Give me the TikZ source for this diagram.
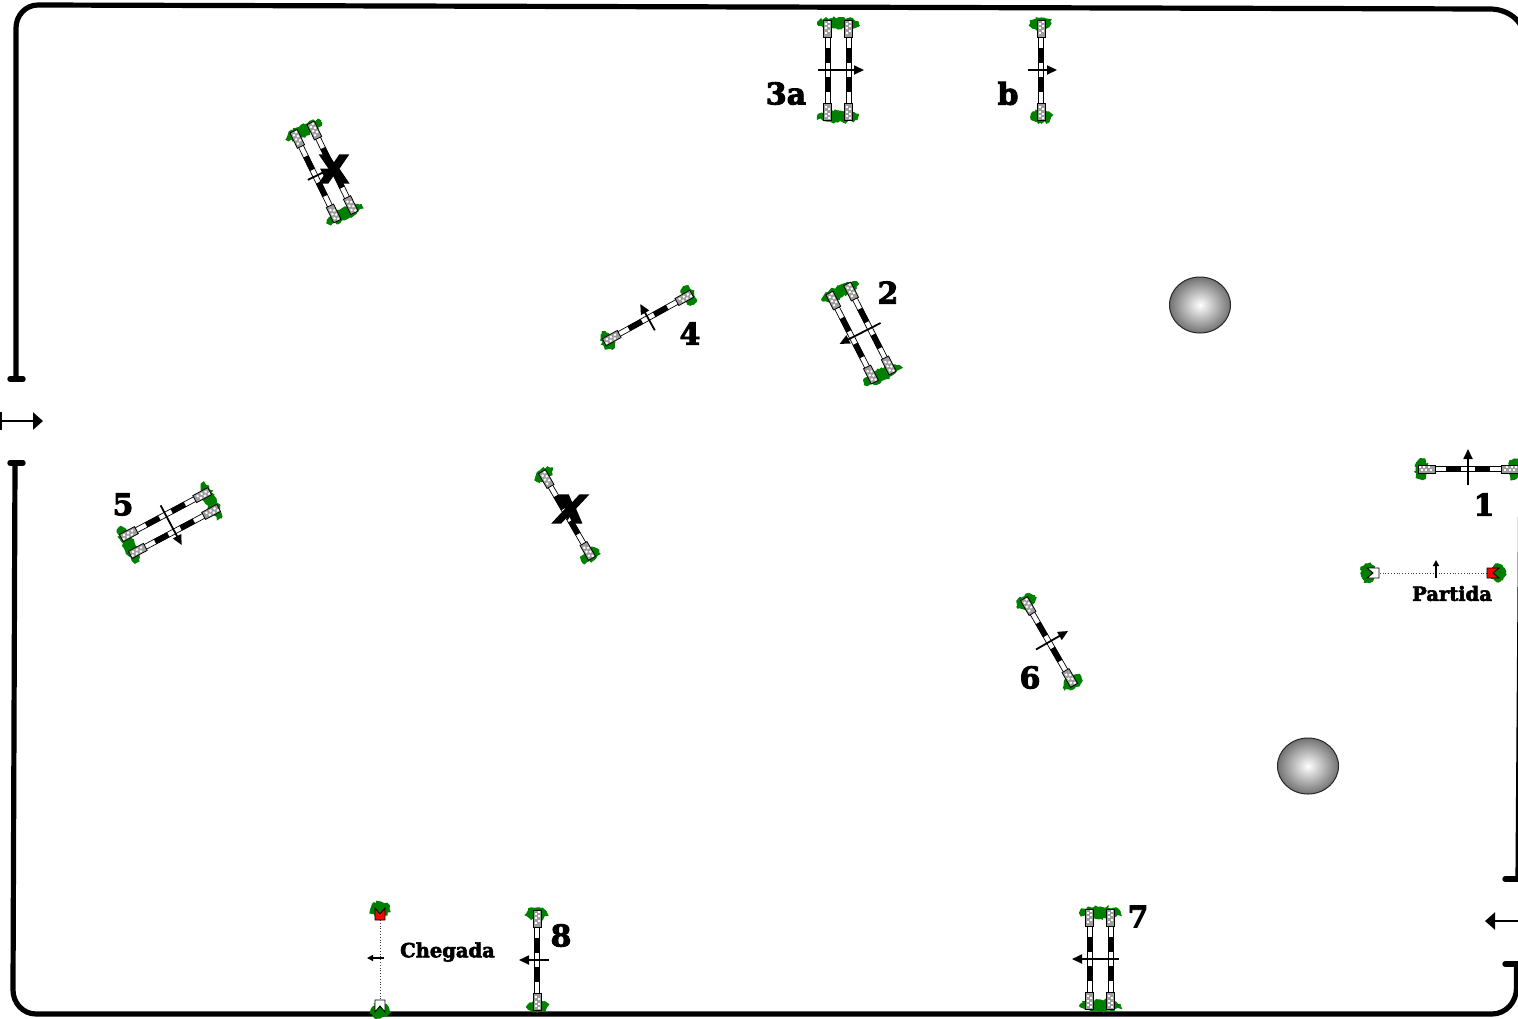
\documentclass[tikz,border=0pt]{standalone}
\usepackage{fontspec}
\setmainfont{DejaVu Serif}
\newfontfamily\labelfont[FakeBold=3]{DejaVu Serif Bold}
\newfontfamily\crossfont[FakeBold=6]{DejaVu Sans Bold}
\usetikzlibrary{arrows.meta,decorations.pathmorphing}
\definecolor{bushgreen}{RGB}{0,128,0}
\tikzset{
  wall/.style={line width=5.2pt,black,line cap=round,line join=round},
  stub/.style={line width=5.4pt,black,line cap=round},
  bigarrow/.style={line width=2.6pt,-{Triangle[length=10pt,width=17pt]}},
  dirarrow/.style={line width=1.8pt,-{Triangle[length=10pt,width=9pt]}},
  smallarrow/.style={line width=1.3pt,-{Triangle[length=6pt,width=6pt]}},
  numlabel/.style={font=\labelfont\fontsize{30}{30}\selectfont,inner sep=0pt},
  namelabel/.style={font=\labelfont\fontsize{19.5}{20}\selectfont,inner sep=0pt},
  crossmark/.style={font=\crossfont\fontsize{37}{37}\selectfont,inner sep=0pt},
  bush/.style={fill=bushgreen,draw=bushgreen,line width=1pt,decorate,decoration={random steps,segment length=2.2pt,amplitude=1.5pt}},
  ball/.style={draw=black!85,line width=1pt,inner color=white,outer color=black!55}
}
% one pole along local y, centred on (#1,0)
\newcommand{\polebar}[1]{%
  \begin{scope}[xshift=#1 pt]
    \fill[white,draw=black,line width=.7pt] (-2.6,-34) rectangle (2.6,34);
    \fill[black] (-2.8,-22) rectangle (2.8,-7);
    \fill[black] (-2.8,7) rectangle (2.8,22);
    \foreach \s in {-1,1}{
      \fill[black!38,draw=black,line width=.8pt] (-4,\s*33) rectangle (4,\s*50);
      \foreach \k in {0,1,2}{
        \fill[white] (-2.4,\s*36+\s*\k*4.6) rectangle (-.4,\s*38+\s*\k*4.6);
        \fill[white] (.8,\s*38+\s*\k*4.6) rectangle (2.8,\s*40+\s*\k*4.6);
      }
    }
  \end{scope}}
% #1 cx, #2 cy, #3 angle, #4 arrow tail, #5 arrow tip (local x)
\newcommand{\singlegate}[5]{%
  \begin{scope}[shift={(#1,#2)},rotate=#3]
    \foreach \s in {-1,1}{\path[bush] (0,\s*46.5) ellipse [x radius=10,y radius=5.5];}
    \polebar{0}
    \draw[dirarrow] (#4,0) -- (#5,0);
  \end{scope}}
\newcommand{\doublegate}[6]{%
  \begin{scope}[shift={(#1,#2)},rotate=#3]
    \foreach \s in {-1,1}{\path[bush] (0,\s*46.5) ellipse [x radius=#4*.5+9.5,y radius=5.5];}
    \polebar{-#4*.5}
    \polebar{#4*.5}
    \draw[dirarrow] (#5,0) -- (#6,0);
  \end{scope}}
% #1 cx, #2 cy, #3 angle, #4 half length, #5 arrow tail, #6 arrow tip, #7 arrow y offset
\newcommand{\flaggate}[7]{%
  \begin{scope}[shift={(#1,#2)},rotate=#3]
    \draw[black!75,line width=.8pt,dotted] (0,-#4+12) -- (0,#4-12);
    \path[bush] (0,-#4+1) ellipse [x radius=9,y radius=7];
    \path[bush] (0,#4-1) ellipse [x radius=9,y radius=7];
    \fill[red,draw=black,line width=.9pt] (-5,-#4) -- (0,-#4+6) -- (5,-#4) -- (5,-#4+12) -- (-5,-#4+12) -- cycle;
    \fill[white,draw=black,line width=.9pt] (-5,#4) -- (0,#4-6) -- (5,#4) -- (5,#4-12) -- (-5,#4-12) -- cycle;
    \draw[smallarrow] (#5,#7) -- (#6,#7);
  \end{scope}}
\begin{document}
\begin{tikzpicture}[x=1pt,y=-1pt]
\useasboundingbox (0,0) rectangle (1518,1018);
\begin{scope}
\clip (0,0) rectangle (1518,1018);
% walls
\draw[wall] (16,379) -- (16,28) to[out=90,in=180] (38,5) -- (1490,9) to[out=0,in=90] (1524,38) -- (1518,879);
\draw[wall] (15,463) -- (13,990) to[out=270,in=180] (36,1014) -- (1492,1014) to[out=0,in=270] (1516.5,988) -- (1516.5,964);
\draw[stub] (1505,879) -- (1518,879);
\draw[stub] (1505,964) -- (1518,964);
\draw[stub] (10,379) -- (23,379);
\draw[stub] (10,463) -- (23,463);
% entrance and exit arrows
\coordinate (inTail) at (1,421);
\coordinate (inTip) at (43,421);
\coordinate (outTail) at (1518,921);
\coordinate (outTip) at (1485,921);
\draw[bigarrow] (inTail) -- (inTip);
\draw[line width=1.6pt] (1,412) -- (1,430);
\draw[bigarrow] (outTail) -- (outTip);
% balls
\path[ball] (1200,305) ellipse [x radius=30.5,y radius=28];
\path[ball] (1308,766) ellipse [x radius=30.5,y radius=28];
% gates
\doublegate{838}{70}{0}{21}{-20}{26}
\singlegate{1041}{70}{0}{-13}{16}
\doublegate{861}{333}{27}{20}{22}{-24}
\singlegate{648}{318}{-61}{14}{-16}
\doublegate{170}{523}{-62}{19}{-20}{25}
\singlegate{1049}{642}{30}{-15}{22}
\doublegate{1100}{959}{0}{21}{19}{-28}
\singlegate{537}{960}{0}{12}{-18}
\singlegate{1468}{469}{90}{-16}{20}
\doublegate{324}{172}{26}{19}{-18}{8}
\singlegate{567}{515}{30}{-8}{8}
\flaggate{1433}{573}{-90}{66}{5}{-13}{-3}
\flaggate{380}{960}{0}{52}{4}{-13}{-2}
% labels
\node[crossmark] (xa) at (334,169) {X};
\begin{scope}[shift={(570.5,509)},xslant=.25]
\node[crossmark,transform shape] (xb) at (0,0) {X};
\end{scope}
\node[numlabel] (l3a) at (786,93.5) {3a};
\node[numlabel] (lb) at (1008,93.5) {b};
\node[numlabel] (l2) at (888,292.5) {2};
\node[numlabel] (l4) at (690,333.5) {4};
\node[numlabel] (l5) at (123,504.5) {5};
\node[numlabel] (l1) at (1484,504.5) {1};
\node[numlabel] (l6) at (1030,677.5) {6};
\node[numlabel] (l7) at (1138,916.5) {7};
\node[numlabel] (l8) at (561,935.5) {8};
\node[namelabel] (partida) at (1452,593.5) {Partida};
\node[namelabel] (chegada) at (447.5,952) {Chegada};
\end{scope}
\end{tikzpicture}
\end{document}
